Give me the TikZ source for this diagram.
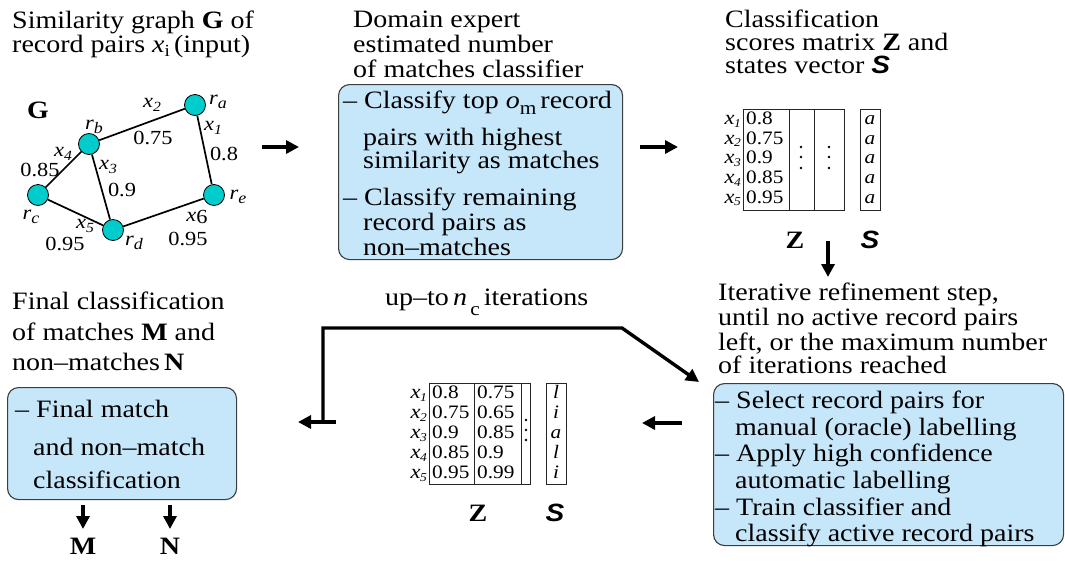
\documentclass[tikz,border=0pt]{standalone}
\usepackage{fontspec}
\setmainfont{Liberation Serif}[FakeStretch=1.12]
\newfontfamily\sansfam{Liberation Sans}[FakeStretch=1.12]
\usetikzlibrary{arrows.meta}
\definecolor{boxblue}{RGB}{198,230,250}
\definecolor{nodecyan}{RGB}{0,204,204}
\definecolor{boxline}{RGB}{60,60,60}
\newcommand{\bigS}{{\sansfam\bfseries\itshape S}}
\newcommand{\mx}[1]{{\fontsize{20}{20}\selectfont\textit{x}}\kern-0.5pt\raisebox{-0.3ex}{\fontsize{12}{12}\selectfont\textit{#1}}}
\newcommand{\gx}[1]{\textit{x}\raisebox{-0.35ex}{\fontsize{14}{14}\selectfont\textit{#1}}}
\newcommand{\gr}[1]{\textit{r}\raisebox{-0.4ex}{\fontsize{16}{16}\selectfont\textit{#1}}}
\tikzset{
 main/.style={font=\fontsize{25}{25}\selectfont, inner sep=0pt, anchor=base west},
 gnum/.style={font=\fontsize{20}{20}\selectfont, inner sep=0pt},
 mval/.style={font=\fontsize{19}{19}\selectfont, inner sep=0pt, anchor=base west, text height=12pt, text depth=2pt},
 mlab/.style={font=\fontsize{19}{19}\selectfont, inner sep=0pt, anchor=base east, text height=9pt, text depth=3pt},
 sval/.style={font=\fontsize{19}{19}\selectfont\itshape, inner sep=0pt, anchor=base, text height=12pt, text depth=2pt},
 bold/.style={font=\fontsize{25}{25}\selectfont\bfseries, inner sep=0pt},
 bluebox/.style={draw=boxline, fill=boxblue, line width=1.1pt, rounded corners=11pt, anchor=north west, inner sep=0pt},
 vertex/.style={circle, draw=black, line width=0.8pt, fill=nodecyan, minimum size=21pt, inner sep=0pt},
 gedge/.style={line width=1.7pt},
 flow/.style={line width=3.4pt, -{Triangle[length=13pt,width=13pt]}},
 grid/.style={draw=black!85, line width=0.9pt},
 vdot/.style={circle, fill=black, inner sep=0pt, minimum size=2.6pt},
}
\begin{document}
\begin{tikzpicture}[x=1pt,y=-1pt]
\useasboundingbox (0,0) rectangle (1065,560);

% ---------- top-left: graph ----------
\node[main] (t1a) at (12,28) {Similarity graph \textbf{G} of};
\node[main] (t1b) at (12,52) {record pairs \textit{x}\raisebox{-0.35ex}{\fontsize{17}{17}\selectfont i}\,(input)};
\node[bold] (gG) at (38,110) {G};
\node[vertex] (ra) at (195,105) {};
\node[vertex] (rb) at (89,144) {};
\node[vertex] (rc) at (38,195) {};
\node[vertex] (rd) at (113,230) {};
\node[vertex] (re) at (214,195) {};
\draw[gedge] (ra) -- (rb);
\draw[gedge] (ra) -- (re);
\draw[gedge] (rb) -- (rc);
\draw[gedge] (rb) -- (rd);
\draw[gedge] (rc) -- (rd);
\draw[gedge] (rd) -- (re);
\node[gnum] (lra) at (218,102) {\gr{a}};
\node[gnum] (lrb) at (94,127) {\gr{b}};
\node[gnum] (lrc) at (31,217) {\gr{c}};
\node[gnum] (lrd) at (134,243) {\gr{d}};
\node[gnum] (lre) at (238,197) {\gr{e}};
\node[gnum] (ex2) at (152,105) {\gx{2}};
\node[gnum] (ev2) at (153,138) {0.75};
\node[gnum] (ex1) at (213,128) {\gx{1}};
\node[gnum] (ev1) at (224,154) {0.8};
\node[gnum] (ex4) at (63,154) {\gx{4}};
\node[gnum] (ev4) at (40,170) {0.85};
\node[gnum] (ex3) at (108,167) {\gx{3}};
\node[gnum] (ev3) at (122,190) {0.9};
\node[gnum] (ex5) at (85,226) {\gx{5}};
\node[gnum] (ev5) at (65,244) {0.95};
\node[gnum] (ex6) at (197,217) {\textit{x}\raisebox{-0.2ex}{6}};
\node[gnum] (ev6) at (188,239) {0.95};

\coordinate (a1s) at (262,147);
\coordinate (a1e) at (299,147);
\draw[flow] (a1s) -- (a1e);

% ---------- top-middle ----------
\node[main] (t2a) at (353,27) {Domain expert};
\node[main] (t2b) at (353,52) {estimated number};
\node[main] (t2c) at (353,77) {of matches classifier};
\node[bluebox, minimum width=284pt, minimum height=175pt] (box1) at (338,84) {};
\node[main] (b1a) at (343,108) {-- Classify top \textit{o}\raisebox{-0.55ex}{\fontsize{19}{19}\selectfont m}\,record};
\node[main] (b1b) at (363,145) {pairs with highest};
\node[main] (b1c) at (363,168) {similarity as matches};
\node[main] (b1d) at (343,205) {-- Classify remaining};
\node[main] (b1e) at (363,230) {record pairs as};
\node[main] (b1f) at (363,255) {non--matches};

\coordinate (a2s) at (640,147);
\coordinate (a2e) at (678,147);
\draw[flow] (a2s) -- (a2e);

% ---------- top-right ----------
\node[main] (t3a) at (725,27) {Classification};
\node[main] (t3b) at (725,50) {scores matrix \textbf{Z} and};
\node[main] (t3c) at (725,73) {states vector \bigS};
\draw[grid] (743,109) rectangle (844,210);
\draw[grid] (789,109) -- (789,210);
\draw[grid] (814,109) -- (814,210);
\draw[grid] (860,109) rectangle (880,210);
\foreach \v/\s [count=\i from 0] in {0.8/1,0.75/2,0.9/3,0.85/4,0.95/5}{
  \node[mval] (z1v\s) at (746,124.5+19.7*\i) {\v};
  \node[mlab] (z1x\s) at (741,124.5+19.7*\i) {\mx{\s}};
  \node[sval] (s1v\s) at (870,124.5+19.7*\i) {a};
}
\foreach \yy [count=\k] in {147,157,168}{
  \node[vdot] (d1a\k) at (801,\yy) {};
  \node[vdot] (d1b\k) at (829,\yy) {};
}
\node[bold] (z1) at (795,240) {Z};
\node[font=\fontsize{25}{25}\selectfont, inner sep=0pt] (s1) at (870,240) {\bigS};

\coordinate (a3s) at (828,241);
\coordinate (a3e) at (828,277);
\draw[flow] (a3s) -- (a3e);

% ---------- bottom-right ----------
\node[main] (t4a) at (718,300) {Iterative refinement step,};
\node[main] (t4b) at (718,325) {until no active record pairs};
\node[main] (t4c) at (718,350) {left, or the maximum number};
\node[main] (t4d) at (718,373) {of iterations reached};
\node[bluebox, minimum width=350pt, minimum height=162pt] (box2) at (713,383) {};
\node[main] (b2a) at (715,408) {-- Select record pairs for};
\node[main] (b2b) at (735,435) {manual (oracle) labelling};
\node[main] (b2c) at (715,461) {-- Apply high confidence};
\node[main] (b2d) at (735,488) {automatic labelling};
\node[main] (b2e) at (715,515) {-- Train classifier and};
\node[main] (b2f) at (735,541) {classify active record pairs};

\coordinate (a4s) at (682,423);
\coordinate (a4e) at (642,423);
\draw[flow] (a4s) -- (a4e);

% ---------- bottom-middle ----------
\node[main] (t5) at (385,305) {up--to\,\textit{n}\raisebox{-0.9ex}{\fontsize{19}{19}\selectfont\,c}\,iterations};
\draw[grid] (429,383) rectangle (530,484);
\draw[grid] (474,383) -- (474,484);
\draw[grid] (521,383) -- (521,484);
\draw[grid] (546,383) rectangle (566,484);
\foreach \v/\w/\st/\s [count=\i from 0] in {0.8/0.75/l/1,0.75/0.65/i/2,0.9/0.85/a/3,0.85/0.9/l/4,0.95/0.99/i/5}{
  \node[mval] (z2v\s) at (432,398.5+20*\i) {\v};
  \node[mval] (z2w\s) at (477,398.5+20*\i) {\w};
  \node[mlab] (z2x\s) at (427,398.5+20*\i) {\mx{\s}};
  \node[sval] (s2v\s) at (556,398.5+20*\i) {\st};
}
\foreach \yy [count=\k] in {420,430,440}{
  \node[vdot] (d2\k) at (526,\yy) {};
}
\node[bold] (z2) at (478,513) {Z};
\node[font=\fontsize{25}{25}\selectfont, inner sep=0pt] (s2) at (555,513) {\bigS};

% loop connector
\coordinate (l0) at (323,422);
\coordinate (l1) at (323,328);
\coordinate (l2) at (622,328);
\coordinate (l3) at (699,382);
\draw[flow, line join=miter] (l0) -- (l1) -- (l2) -- (l3);
\coordinate (a5s) at (336,422);
\coordinate (a5e) at (298,422);
\draw[flow] (a5s) -- (a5e);

% ---------- bottom-left ----------
\node[main] (t6a) at (12,309) {Final classification};
\node[main] (t6b) at (12,340) {of matches \textbf{M} and};
\node[main] (t6c) at (12,370) {non--matches\,\textbf{N}};
\node[bluebox, minimum width=229pt, minimum height=112pt] (box3) at (7,387) {};
\node[main] (b3a) at (15,417) {-- Final match};
\node[main] (b3b) at (33,455) {and non--match};
\node[main] (b3c) at (33,488) {classification};
\coordinate (m1s) at (83,505);
\coordinate (m1e) at (83,529);
\coordinate (n1s) at (170,505);
\coordinate (n1e) at (170,529);
\draw[flow] (m1s) -- (m1e);
\draw[flow] (n1s) -- (n1e);
\node[bold] (M) at (83,546) {M};
\node[bold] (N) at (170,546) {N};
\end{tikzpicture}
\end{document}
